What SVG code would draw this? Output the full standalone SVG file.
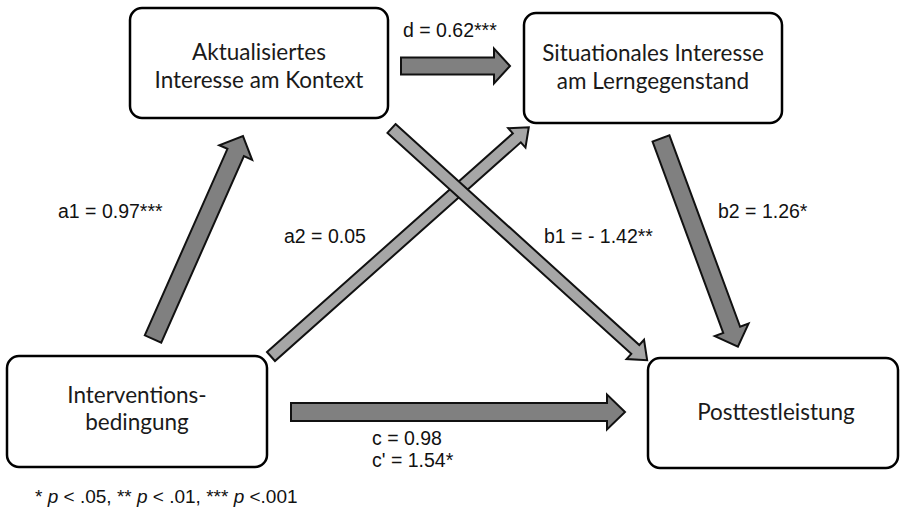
<svg xmlns="http://www.w3.org/2000/svg" width="904" height="513" viewBox="0 0 904 513">
  <style>
    .box { fill: #ffffff; stroke: #000000; stroke-width: 2.5; }
    .bt { font-family: Lato, "Open Sans", sans-serif; font-size: 22.5px; fill: #1a1a1a; text-anchor: middle; }
    .lbl { font-family: "Liberation Sans", Arial, sans-serif; font-size: 19.5px; fill: #111111; }
    .dark { fill: #808080; stroke: #111111; stroke-width: 2; stroke-linejoin: miter; }
    .light { fill: #a6a6a6; stroke: #111111; stroke-width: 2; stroke-linejoin: miter; }
  </style>
  <rect width="904" height="513" fill="#ffffff"/>

  <g id="connectors">
    <!-- a1 -->
    <polygon class="dark" transform="translate(153,339) rotate(-66.09)" points="0,-9 204,-9 204,-18 222,0 204,18 204,9 0,9"/>
    <!-- a2 -->
    <polygon class="light" transform="translate(271,356.5) rotate(-41.65)" points="0,-6 329,-6 329,-13 345,0 329,13 329,6 0,6"/>
    <!-- b1 -->
    <polygon class="light" transform="translate(391.5,128.5) rotate(42.18)" points="0,-6 329,-6 329,-13 345,0 329,13 329,6 0,6"/>
    <!-- b2 -->
    <polygon class="dark" transform="translate(661,138.5) rotate(69.73)" points="0,-9 204,-9 204,-18 222,0 204,18 204,9 0,9"/>
    <!-- d -->
    <polygon class="dark" points="401,57.5 494,57.5 494,48.5 510,66 494,83.5 494,74.5 401,74.5"/>
    <!-- c -->
    <polygon class="dark" points="291,403 607,403 607,394.5 625,412 607,429.5 607,421 291,421"/>

    <text class="lbl" x="403" y="37">d = 0.62***</text>
    <text class="lbl" x="58" y="218">a1 = 0.97***</text>
    <text class="lbl" x="284" y="243">a2 = 0.05</text>
    <text class="lbl" x="544" y="243">b1 = - 1.42**</text>
    <text class="lbl" x="718" y="218">b2 = 1.26*</text>
    <text class="lbl" x="372" y="445">c = 0.98</text>
    <text class="lbl" x="372" y="467">c' = 1.54*</text>
  </g>

  <g id="node-aktualisiertes">
    <rect class="box" x="130" y="8" width="258" height="110" rx="12"/>
    <text class="bt" x="259" y="60">Aktualisiertes</text>
    <text class="bt" x="259" y="87.5">Interesse am Kontext</text>
  </g>

  <g id="node-situationales">
    <rect class="box" x="524" y="13" width="258" height="110" rx="12"/>
    <text class="bt" x="653" y="61">Situationales Interesse</text>
    <text class="bt" x="653" y="88.5">am Lerngegenstand</text>
  </g>

  <g id="node-intervention">
    <rect class="box" x="7" y="356" width="260" height="111" rx="12"/>
    <text class="bt" x="137" y="402.5">Interventions-</text>
    <text class="bt" x="137" y="430">bedingung</text>
  </g>

  <g id="node-posttest">
    <rect class="box" x="648" y="358" width="250" height="110" rx="12"/>
    <text class="bt" x="776" y="420">Posttestleistung</text>
  </g>

  <text class="lbl" x="35" y="503" style="font-size:19px">* <tspan font-style="italic">p</tspan> &lt; .05, ** <tspan font-style="italic">p</tspan> &lt; .01, *** <tspan font-style="italic">p</tspan> &lt;.001</text>
</svg>
